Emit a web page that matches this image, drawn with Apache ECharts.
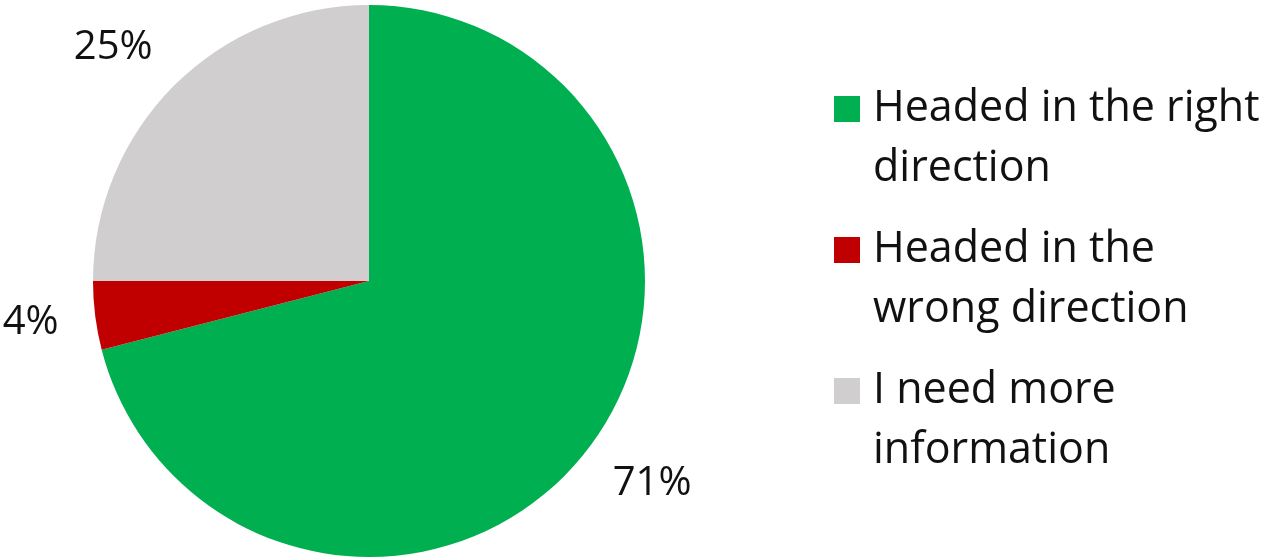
<!DOCTYPE html>
<html>
<head>
<meta charset="utf-8">
<script src="https://cdn.jsdelivr.net/npm/echarts@6/dist/echarts.min.js"></script>
<style>
  html, body { margin: 0; padding: 0; background: #fff; }
  #main { width: 1270px; height: 557px; }
</style>
</head>
<body>
<div id="main"></div>
<script>
// data
var categories = ['Headed in the right direction', 'Headed in the wrong direction', 'I need more information'];
var legendLines = [['Headed in the right', 'direction'], ['Headed in the', 'wrong direction'], ['I need more', 'information']];
var values = [71, 4, 25];
var colors = ['#00b050', '#c00000', '#d0cece'];

var myChart = echarts.init(document.getElementById('main'));

var pieData = categories.map(function (name, i) {
    return { name: name, value: values[i], itemStyle: { color: colors[i] } };
});

// square at the top of a taller box, so it sits beside the first text line
var topSquare = 'path://M0,0L26,0L26,26L0,26Z M0,86L0.01,86L0.01,86.01Z';

var option = {
    animation: false,
    legend: {
        orient: 'vertical',
        left: 834,
        top: 79,
        padding: 0,
        itemWidth: 26,
        itemHeight: 86,
        itemGap: 21,
        icon: topSquare,
        data: categories,
        formatter: function (name) {
            return legendLines[categories.indexOf(name)].join('\n');
        },
        textStyle: {
            fontFamily: 'Open Sans',
            fontSize: 43,
            lineHeight: 60,
            color: '#111',
            padding: [0, 0, 0, 8]
        }
    },
    series: [{
        type: 'pie',
        center: [369, 281],
        radius: 276,
        startAngle: 90,
        clockwise: true,
        avoidLabelOverlap: false,
        data: pieData,
        label: {
            show: true,
            position: 'outside',
            formatter: '{c}%',
            fontFamily: 'Open Sans',
            fontSize: 40,
            color: '#111',
            distanceToLabelLine: 5
        },
        labelLine: {
            show: false,
            length: 54,
            length2: -22
        },
        emphasis: { disabled: true }
    }]
};

myChart.setOption(option);
</script>
</body>
</html>
